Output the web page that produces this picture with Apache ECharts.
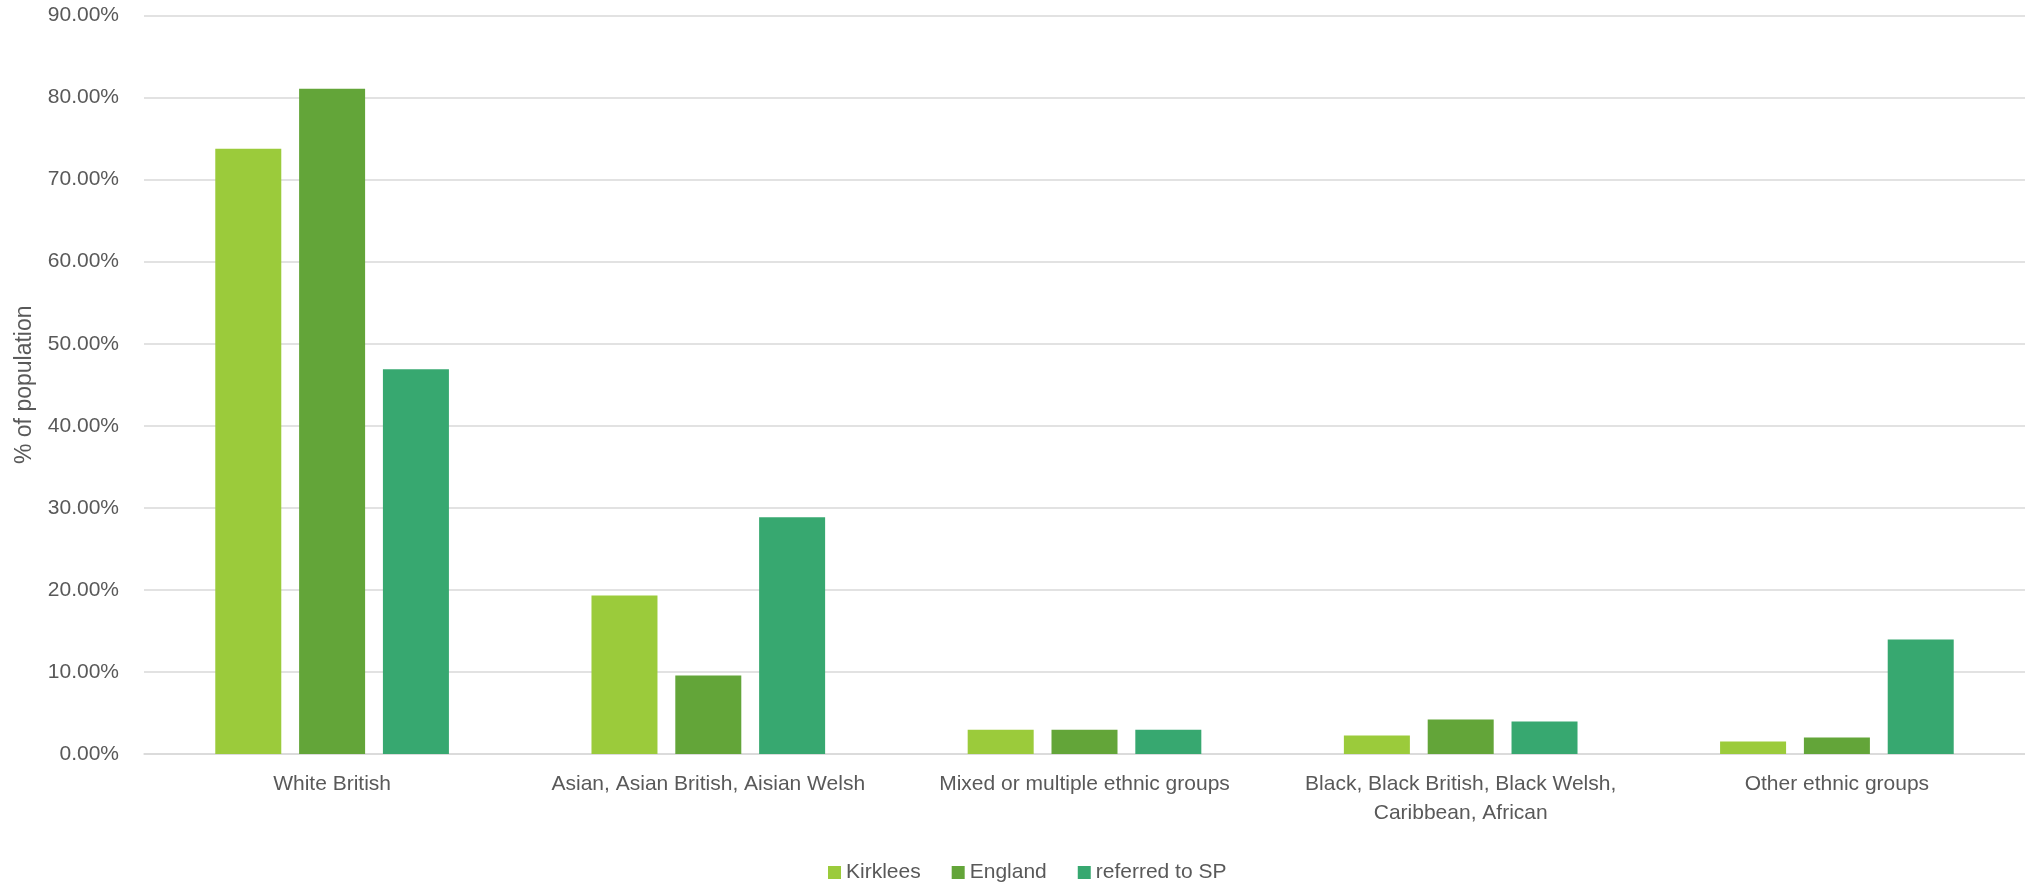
<!DOCTYPE html>
<html>
<head>
<meta charset="utf-8">
<script src="https://cdn.jsdelivr.net/npm/echarts@6/dist/echarts.min.js"></script>
<style>
html,body{margin:0;padding:0;background:#fff;}
#chart{width:2025px;height:883px;}
</style>
</head>
<body>
<div id="chart"></div>
<script>
const categories = [
  "White British",
  "Asian, Asian British, Aisian Welsh",
  "Mixed or multiple ethnic groups",
  "Black, Black British, Black Welsh,\nCaribbean, African",
  "Other ethnic groups"
];
const seriesNames = ["Kirklees", "England", "referred to SP"];
const kirklees = [73.75, 19.33, 2.97, 2.24, 1.51];
const england = [81.08, 9.56, 2.97, 4.20, 2.00];
const referredToSP = [46.90, 28.86, 2.97, 3.96, 13.95];
const colors = ["#9BCB3B", "#63A539", "#37A870"];
const yTicks = { min: 0, max: 90, interval: 10 };

const font = "'Liberation Sans', Arial, sans-serif";
const textColor = "#595959";

const chart = echarts.init(document.getElementById('chart'));
const seriesData = [kirklees, england, referredToSP];

chart.setOption({
  animation: false,
  backgroundColor: '#ffffff',
  textStyle: { fontFamily: font, color: textColor },
  grid: { left: 144, right: 0, top: 15.5, bottom: 129, containLabel: false },
  legend: {
    data: seriesNames,
    left: 823,
    top: 857,
    icon: 'rect',
    itemWidth: 13,
    itemHeight: 13,
    itemGap: 31,
    textStyle: { fontFamily: font, fontSize: 21, color: textColor }
  },
  xAxis: {
    type: 'category',
    data: categories,
    axisLine: { show: true, lineStyle: { color: '#D9D9D9', width: 1.5 } },
    axisTick: { show: false },
    axisLabel: {
      interval: 0,
      margin: 16,
      fontFamily: font,
      fontSize: 21,
      lineHeight: 29,
      color: textColor,
      align: 'center'
    }
  },
  yAxis: {
    type: 'value',
    min: yTicks.min,
    max: yTicks.max,
    interval: yTicks.interval,
    name: '% of population',
    nameLocation: 'middle',
    nameGap: 108,
    nameTextStyle: { fontFamily: font, fontSize: 23, color: textColor },
    axisLine: { show: false },
    axisTick: { show: false },
    splitLine: { show: true, lineStyle: { color: '#D9D9D9', width: 1.5 } },
    axisLabel: {
      margin: 25,
      fontFamily: font,
      fontSize: 21,
      color: textColor,
      formatter: function (v) { return v.toFixed(2) + '%'; }
    }
  },
  series: seriesNames.map(function (name, i) {
    return {
      name: name,
      type: 'bar',
      data: seriesData[i],
      barWidth: 66,
      barGap: '27%',
      itemStyle: { color: colors[i] }
    };
  })
});
</script>
</body>
</html>
